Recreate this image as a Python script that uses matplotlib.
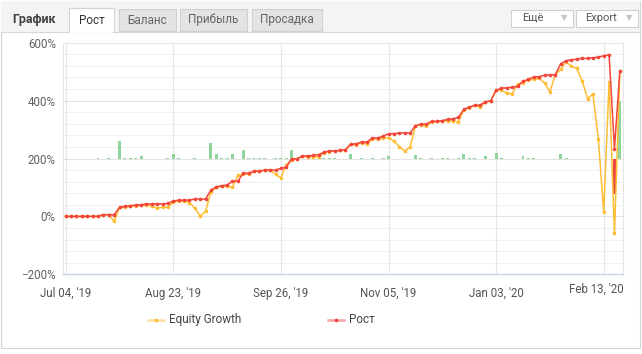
import matplotlib; matplotlib.use("Agg")
import matplotlib.pyplot as plt
from matplotlib.patches import Rectangle
from matplotlib.lines import Line2D

# growth (balance) and equity growth in %, one value per trading day
rost = [0, 0, 0, 0, 0, 0, 0, 6, 6, 6,
        31, 35, 37, 39, 40, 43, 43, 43, 43, 45,
        53, 56, 56, 56, 60, 60, 60, 91, 102, 106,
        108, 122, 122, 149, 149, 156, 156, 160, 160, 160,
        166, 170, 199, 199, 208, 209, 211, 213, 222, 226,
        226, 228, 230, 250, 250, 257, 257, 271, 271, 277,
        285, 286, 288, 288, 288, 313, 319, 319, 328, 328,
        331, 335, 337, 342, 370, 377, 384, 384, 396, 399,
        436, 443, 444, 446, 449, 467, 473, 482, 482, 488,
        488, 490, 527, 538, 541, 543, 546, 546, 548, 550,
        555, 558, 234, 503]
equity = [0, 0, 0, 0, 0, 0, 0, 6, 6, -17,
          31, 31, 35, 37, 38, 39, 35, 29, 32, 32,
          49, 53, 53, 48, 28, 1, 18, 85, 100, 104,
          106, 100, 143, 145, 147, 156, 156, 160, 160, 145,
          133, 179, 194, 199, 208, 205, 205, 206, 220, 224,
          226, 228, 230, 250, 247, 255, 250, 267, 267, 271,
          272, 261, 241, 226, 239, 313, 317, 311, 326, 328,
          330, 330, 330, 326, 369, 376, 384, 377, 395, 398,
          438, 436, 425, 424, 458, 462, 472, 473, 477, 461,
          430, 490, 508, 534, 518, 511, 468, 407, 423, 268,
          15, 465, -59, 503]
# daily result bars, drawn from the 200% line
bar_idx = [6, 8, 10, 11, 12, 13, 14, 19, 20, 21, 24, 27, 28, 29, 30, 31, 33, 34, 35, 36, 37,
           39, 40, 41, 42, 48, 49, 50, 53, 55, 57, 59, 60, 65, 66, 68, 70, 71, 73, 74, 75,
           76, 78, 80, 81, 85, 86, 87, 92, 93, 102, 103]
bar_val = [3, 3, 62, 3, 3, 3, 8, 3, 17, 3, 3, 52, 14, 3, 3, 17, 31, 3, 3, 3, 3,
           3, 3, 3, 28, 3, 3, 3, 14, 3, 3, 3, 7, 13, 3, 3, 3, 3, 3, 14, 3,
           3, 7, 20, 3, 9, 3, 3, 17, 3, -121, 194]
tick_idx = [0, 20, 40, 60, 80, 100]
tick_lab = ["Jul 04, '19", "Aug 23, '19", "Sep 26, '19", "Nov 05, '19", "Jan 03, '20", "Feb 13, '20"]
tabs = ["Рост", "Баланс", "Прибыль", "Просадка"]

plt.rcParams["font.family"] = ["Liberation Sans Narrow", "Roboto", "DejaVu Sans"]
W, H = 642, 354
fig = plt.figure(figsize=(W / 100, H / 100), dpi=100)
fig.patch.set_facecolor("white")

def box(x0, y0, x1, y1, **kw):
    fig.patches.append(Rectangle((x0 / W, 1 - y1 / H), (x1 - x0) / W, (y1 - y0) / H,
                                 transform=fig.transFigure, **kw))

def ftext(x, y, s, **kw):
    fig.text(x / W, 1 - y / H, s, va="center", **kw)

# frame + header
box(0.5, 0.5, 640, 348, fc="white", ec="#d4d4d4", lw=0.8, zorder=-5)
box(1, 1, 639.5, 31.5, fc="#f4f4f4", ec="none", zorder=-4)
fig.add_artist(Line2D([1 / W, 639.5 / W], [1 - 31.5 / H] * 2, color="#d8d8d8", lw=0.8, zorder=-3))
ftext(12, 19.5, "График", fontsize=9, fontweight="bold", color="#444444")
tab_x = [(69, 114), (119, 176), (180, 247), (252, 322)]
for i, (t, (a, b)) in enumerate(zip(tabs, tab_x)):
    if i == 0:
        box(a, 8, b, 32, fc="white", ec="#d4d4d4", lw=0.8, zorder=-2)
        box(a + 0.6, 30, b - 0.6, 33, fc="white", ec="none", zorder=-1)
        col = "#333333"
    else:
        box(a, 9, b, 30.7, fc="#e4e4e4", ec="#d0d0d0", lw=0.8, zorder=-2)
        col = "#666666"
    ftext((a + b) / 2, 20, t, fontsize=8.5, color=col, ha="center")
for lab, (a, b) in [("Ещё", (511, 573)), ("Export", (576, 638))]:
    box(a, 9.5, b, 26.5, fc="white", ec="#d0d0d0", lw=0.8, zorder=-2)
    ftext(a + 22 if lab == "Ещё" else a + 25, 18, lab, fontsize=8, color="#555555", ha="center")
    ftext(b - 9, 17.5, "▼", fontsize=6, color="#c4c4c4", ha="center", family="DejaVu Sans")

# plot
ax = fig.add_axes([62.7 / W, 1 - 274.3 / H, (623.3 - 62.7) / W, (274.3 - 42.7) / H])
ax.set_zorder(5); ax.patch.set_alpha(0)
ax.set_xlim(-0.56, 103.64); ax.set_ylim(-200, 600)
for v in range(-200, 601, 40):
    ax.axhline(v, color="#e3e3e3" if v % 200 == 0 else "#f1f1f1", lw=0.8, zorder=0)
for t in tick_idx:
    ax.axvline(t, color="#e6e6e6", lw=0.8, zorder=0)

cols = ["#8fd49c" if v > 0 else "#f04444" for v in bar_val]
ax.bar(bar_idx, bar_val, bottom=200, width=0.55, color=cols, zorder=1)
x = list(range(len(rost)))
ax.plot(x, equity, color="#fdbd35", lw=1.1, marker="o", ms=2.6, mew=0, zorder=3)
ax.plot(x, rost, color="#f2453a", lw=1.1, marker="o", ms=2.6, mew=0, zorder=4)

ax.set_yticks([-200, 0, 200, 400, 600])
ax.set_yticklabels(["−200%", "0%", "200%", "400%", "600%"])
ax.set_xticks(tick_idx)
ax.set_xticklabels(tick_lab[:-1] + [""])
ax.text(1.0, -0.065, tick_lab[-1], transform=ax.transAxes, ha="right", va="center",
        fontsize=8.3, color="#555555")
ax.tick_params(axis="y", length=0, pad=5, labelsize=8.3, labelcolor="#606060")
ax.tick_params(axis="x", length=0, pad=9, labelsize=8.3, labelcolor="#555555")
ax.spines["top"].set_visible(False)
for s in ["left", "right"]:
    ax.spines[s].set_color("#e6e6e6"); ax.spines[s].set_linewidth(0.8)
ax.spines["bottom"].set_color("#c5d3e6"); ax.spines["bottom"].set_linewidth(1.0)

# legend
for lx, col, lcol, lab in [(148, "#fdbd35", "#fde0a0", "Equity Growth"), (328, "#f2453a", "#f5a3a0", "Рост")]:
    fig.add_artist(Line2D([lx / W, (lx + 16) / W], [1 - 319.5 / H] * 2, color=lcol, lw=1.8))
    fig.add_artist(Line2D([(lx + 8) / W], [1 - 319.5 / H], marker="o", ms=2.6, mew=0, color=col))
    ftext(lx + 21, 319.5, lab, fontsize=8.5, color="#444444")

fig.savefig("out.png", dpi=100)
